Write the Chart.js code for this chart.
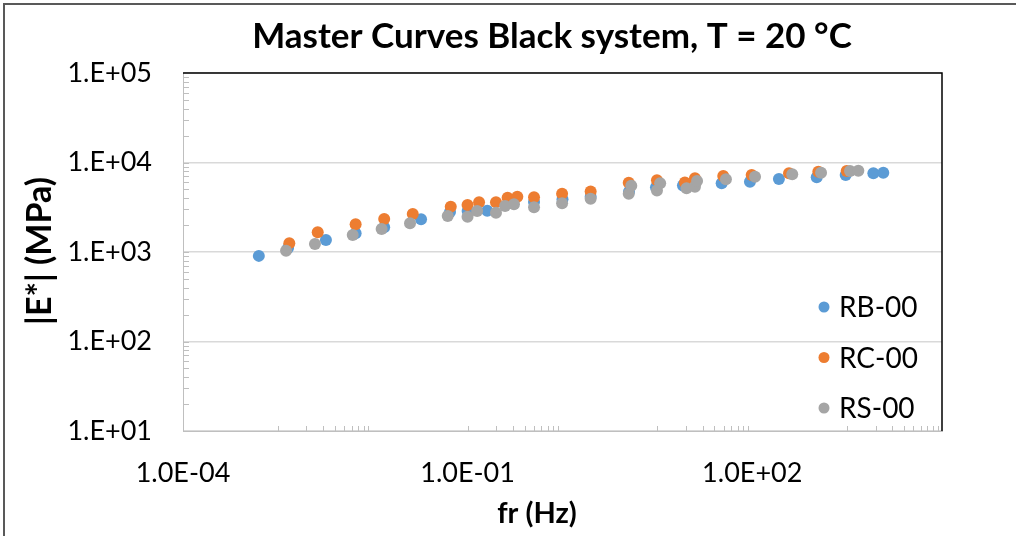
<!DOCTYPE html>
<html>
<head>
<meta charset="utf-8">
<script src="https://cdn.jsdelivr.net/npm/chart.js@4/dist/chart.umd.min.js"></script>
<style>
  html, body { margin: 0; padding: 0; background: #fff; overflow: hidden; }
  #frame { position: absolute; left: 3px; top: 3px; width: 1100px; height: 700px;
           border-top: 2px solid #595959; border-left: 2px solid #595959; }
  #c { position: absolute; left: 0; top: 0; width: 1016px; height: 536px; }
</style>
</head>
<body>
<div id="frame"></div>
<canvas id="c" width="1016" height="536"></canvas>
<script>
// Reduced frequency (Hz) and dynamic modulus |E*| (MPa) per mixture
const freqRB = [6.3e-4, 1.28e-3, 3.21e-3, 6.6e-3, 0.0132, 0.0323, 0.0652, 0.1, 0.161, 0.501, 1.0, 1.98,
                5.02, 9.67, 18.6, 47.6, 94.6, 191, 478, 966, 1890, 2405];
const modRB  = [905, 1110, 1360, 1620, 1890, 2320, 2800, 2870, 2890, 3620, 3880, 4150,
                4720, 5290, 5540, 5860, 6100, 6550, 6840, 7240, 7570, 7690];

const freqRC = [1.32e-3, 2.63e-3, 6.6e-3, 0.0132, 0.0264, 0.0664, 0.0998, 0.132, 0.199, 0.264, 0.334, 0.501,
                0.99, 1.98, 4.99, 9.9, 19.5, 24.9, 49.5, 98.6, 244, 497, 989];
const modRC  = [1250, 1660, 2040, 2340, 2660, 3210, 3350, 3590, 3590, 4040, 4150, 4090,
                4480, 4750, 5930, 6320, 5980, 6650, 7070, 7240, 7570, 7890, 8040];

const freqRS = [1.22e-3, 2.46e-3, 6.15e-3, 0.0124, 0.0247, 0.0617, 0.0998, 0.126, 0.199, 0.248, 0.308, 0.501,
                0.99, 1.98, 4.99, 5.31, 9.9, 10.7, 20.3, 24.9, 26.2, 52.8, 107, 264, 531, 1072, 1312];
const modRS  = [1035, 1230, 1550, 1810, 2100, 2520, 2480, 2880, 2750, 3270, 3410, 3160,
                3500, 3930, 4470, 5490, 4880, 5860, 5150, 5370, 6210, 6490, 6930, 7380, 7690, 8040, 8090];

const seriesNames = ['RB-00', 'RC-00', 'RS-00'];
const seriesColors = ['#5B9BD5', '#ED7D31', '#A5A5A5'];

// Axis ticks
const xTickValues = [1e-4, 1e-1, 1e2];
const xTickLabels = ['1.0E-04', '1.0E-01', '1.0E+02'];
const yTickValues = [1e1, 1e2, 1e3, 1e4, 1e5];
const yTickLabels = ['1.E+01', '1.E+02', '1.E+03', '1.E+04', '1.E+05'];
const xMinorDecades = [1e-3, 1e-1, 1e1, 1e3];
const yMinorDecades = [1e1, 1e2, 1e3, 1e4];

const titleText = 'Master Curves Black system, T = 20 °C';
const xTitleText = 'fr (Hz)';
const yTitleText = '|E*| (MPa)';

const FONT = 'Lato, "Open Sans", sans-serif';

function toPoints(xs, ys) { return xs.map((x, i) => ({ x: x, y: ys[i] })); }

const decorations = {
  id: 'decorations',
  afterDraw(chart) {
    const ctx = chart.ctx;
    const { left, right, top, bottom } = chart.chartArea;
    const xs = chart.scales.x, ys = chart.scales.y;
    ctx.save();

    // minor tick marks
    ctx.strokeStyle = '#bfbfbf';
    ctx.lineWidth = 1;
    ctx.beginPath();
    xMinorDecades.forEach(d => {
      for (let k = 1; k <= 9; k++) {
        const px = Math.round(xs.getPixelForValue(k * d)) + 0.5;
        ctx.moveTo(px, bottom);
        ctx.lineTo(px, bottom - 5);
      }
    });
    yMinorDecades.forEach(d => {
      for (let k = 1; k <= 9; k++) {
        const py = Math.round(ys.getPixelForValue(k * d)) + 0.5;
        ctx.moveTo(left, py);
        ctx.lineTo(left + 6, py);
      }
    });
    ctx.stroke();

    // plot frame: top and right edges
    ctx.strokeStyle = '#000';
    ctx.lineWidth = 1.5;
    ctx.beginPath();
    ctx.moveTo(left, top);
    ctx.lineTo(right, top);
    ctx.lineTo(right, bottom);
    ctx.stroke();

    // chart title
    ctx.fillStyle = '#000';
    ctx.textAlign = 'center';
    ctx.textBaseline = 'middle';
    ctx.font = 'bold 35px ' + FONT;
    ctx.fillText(titleText, 552, 37);

    // axis titles
    ctx.font = 'bold 29px ' + FONT;
    ctx.fillText(xTitleText, 537, 514);
    ctx.save();
    ctx.translate(40, 251);
    ctx.rotate(-Math.PI / 2);
    ctx.font = 'bold 34px ' + FONT;
    ctx.fillText(yTitleText, 0, 0);
    ctx.restore();

    // legend
    ctx.textAlign = 'left';
    ctx.font = '28px ' + FONT;
    const rows = [307, 357.5, 408];
    chart.data.datasets.forEach((ds, i) => {
      ctx.fillStyle = ds.backgroundColor;
      ctx.beginPath();
      ctx.arc(824, rows[i], 5.5, 0, Math.PI * 2);
      ctx.fill();
      ctx.fillStyle = '#000';
      ctx.fillText(ds.label, 839, rows[i] + 1);
    });

    ctx.restore();
  }
};

new Chart(document.getElementById('c'), {
  type: 'scatter',
  data: {
    datasets: [
      { label: seriesNames[0], data: toPoints(freqRB, modRB), backgroundColor: seriesColors[0], order: 3 },
      { label: seriesNames[1], data: toPoints(freqRC, modRC), backgroundColor: seriesColors[1], order: 2 },
      { label: seriesNames[2], data: toPoints(freqRS, modRS), backgroundColor: seriesColors[2], order: 1 }
    ]
  },
  options: {
    responsive: false,
    animation: false,
    events: [],
    elements: { point: { radius: 6, borderWidth: 0, hoverRadius: 6 } },
    layout: { padding: { top: 73, right: 74, bottom: 0, left: 0 } },
    plugins: { legend: { display: false }, title: { display: false }, tooltip: { enabled: false } },
    scales: {
      x: {
        type: 'logarithmic',
        min: 1e-4, max: 1e4,
        afterBuildTicks: s => { s.ticks = xTickValues.map(v => ({ value: v })); },
        afterFit: s => { s.height = 536 - 431; },
        ticks: {
          autoSkip: false, maxRotation: 0, padding: 26, color: '#000',
          font: { family: FONT, size: 27 },
          callback: (v) => { const i = xTickValues.indexOf(v); return i >= 0 ? xTickLabels[i] : ''; }
        },
        grid: { display: false, drawTicks: false },
        border: { display: true, color: '#bfbfbf', width: 1 }
      },
      y: {
        type: 'logarithmic',
        min: 1e1, max: 1e5,
        afterBuildTicks: s => { s.ticks = yTickValues.map(v => ({ value: v })); },
        afterFit: s => { s.width = 183; },
        ticks: {
          autoSkip: false, padding: 31, color: '#000',
          font: { family: FONT, size: 27 },
          callback: (v) => { const i = yTickValues.indexOf(v); return i >= 0 ? yTickLabels[i] : ''; }
        },
        grid: { display: true, drawTicks: false, color: '#d9d9d9', lineWidth: 1.5 },
        border: { display: true, color: '#bfbfbf', width: 1 }
      }
    }
  },
  plugins: [decorations]
});
</script>
</body>
</html>
